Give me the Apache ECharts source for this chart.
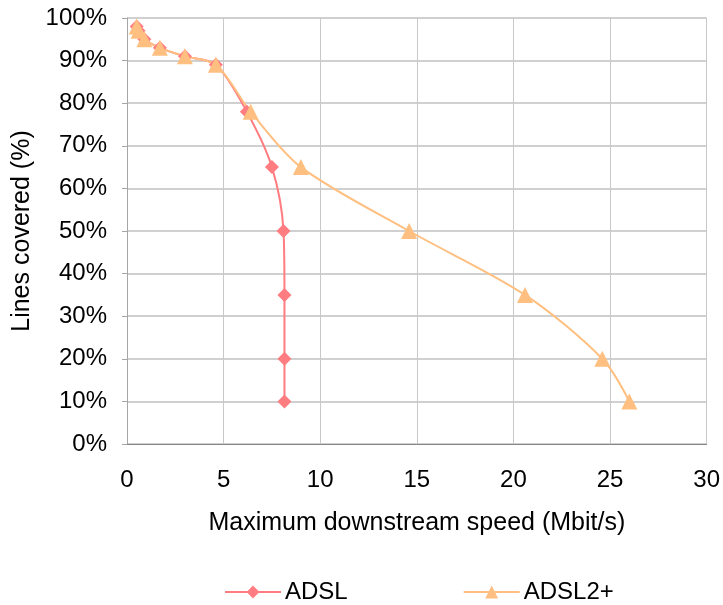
<!DOCTYPE html>
<html>
<head>
<meta charset="utf-8">
<script src="https://cdn.jsdelivr.net/npm/echarts@6/dist/echarts.min.js"></script>
<style>html,body{margin:0;padding:0;background:#fff}#c{width:723px;height:605px}</style>
</head>
<body>
<div id="c"></div>
<script>
const seriesNames = ['ADSL', 'ADSL2+'];
const adslSpeed = [0.5, 0.6, 0.9, 1.7, 3.0, 4.6, 6.2, 7.5, 8.1, 8.15, 8.15, 8.15];
const adslCover = [98, 97, 95, 93, 91, 89, 78, 65, 50, 35, 20, 10];
const adsl2Speed = [0.5, 0.6, 0.9, 1.7, 3.0, 4.6, 6.4, 9.0, 14.6, 20.6, 24.6, 26.0];
const adsl2Cover = [98, 97, 95, 93, 91, 89, 78, 65, 50, 35, 20, 10];
const xTicks = [0, 5, 10, 15, 20, 25, 30];
const yTicks = [0, 10, 20, 30, 40, 50, 60, 70, 80, 90, 100];
const xTitle = 'Maximum downstream speed (Mbit/s)';
const yTitle = 'Lines covered (%)';

const font = 'Liberation Sans, Arial, sans-serif';
const chart = echarts.init(document.getElementById('c'));
const zip = (xs, ys) => xs.map((x, i) => [x, ys[i]]);
chart.setOption({
  animation: false,
  grid: {left: 127, right: 14, top: 18, bottom: 161},
  legend: {
    data: seriesNames, left: 219, top: 575, itemWidth: 56, itemHeight: 16, itemGap: 115,
    textStyle: {fontFamily: font, fontSize: 24, color: '#000', padding: [0, 0, 0, -1]}
  },
  xAxis: {
    type: 'value', min: xTicks[0], max: xTicks[xTicks.length - 1], interval: 5,
    name: xTitle, nameLocation: 'middle', nameGap: 67,
    nameTextStyle: {fontFamily: font, fontSize: 25, color: '#000'},
    axisLine: {show: true, lineStyle: {color: '#868686', width: 1}},
    axisTick: {show: false},
    axisLabel: {fontFamily: font, fontSize: 24, color: '#000', margin: 24},
    splitLine: {show: true, lineStyle: {color: '#c8c8c8', width: 1}}
  },
  yAxis: {
    type: 'value', min: yTicks[0], max: yTicks[yTicks.length - 1], interval: 10,
    name: yTitle, nameLocation: 'middle', nameGap: 92, nameRotate: 90,
    nameTextStyle: {fontFamily: font, fontSize: 25, color: '#000'},
    axisLine: {show: true, lineStyle: {color: '#a6a6a6', width: 1}},
    axisTick: {show: true, length: 5, lineStyle: {color: '#a6a6a6'}},
    axisLabel: {fontFamily: font, fontSize: 24, color: '#000', margin: 20, formatter: v => v + '%'},
    splitLine: {show: true, lineStyle: {color: '#c0c0c0', width: 1.6}}
  },
  series: [
    {
      name: seriesNames[0], type: 'line', data: zip(adslSpeed, adslCover), smooth: 0.3,
      symbol: 'diamond', symbolSize: 14,
      lineStyle: {color: '#FF7C80', width: 2}, itemStyle: {color: '#FF7C80'}
    },
    {
      name: seriesNames[1], type: 'line', data: zip(adsl2Speed, adsl2Cover), smooth: 0.3,
      symbol: 'triangle', symbolSize: 16,
      lineStyle: {color: '#FFBF80', width: 2}, itemStyle: {color: '#FFBF80'}
    }
  ]
});
</script>
</body>
</html>
